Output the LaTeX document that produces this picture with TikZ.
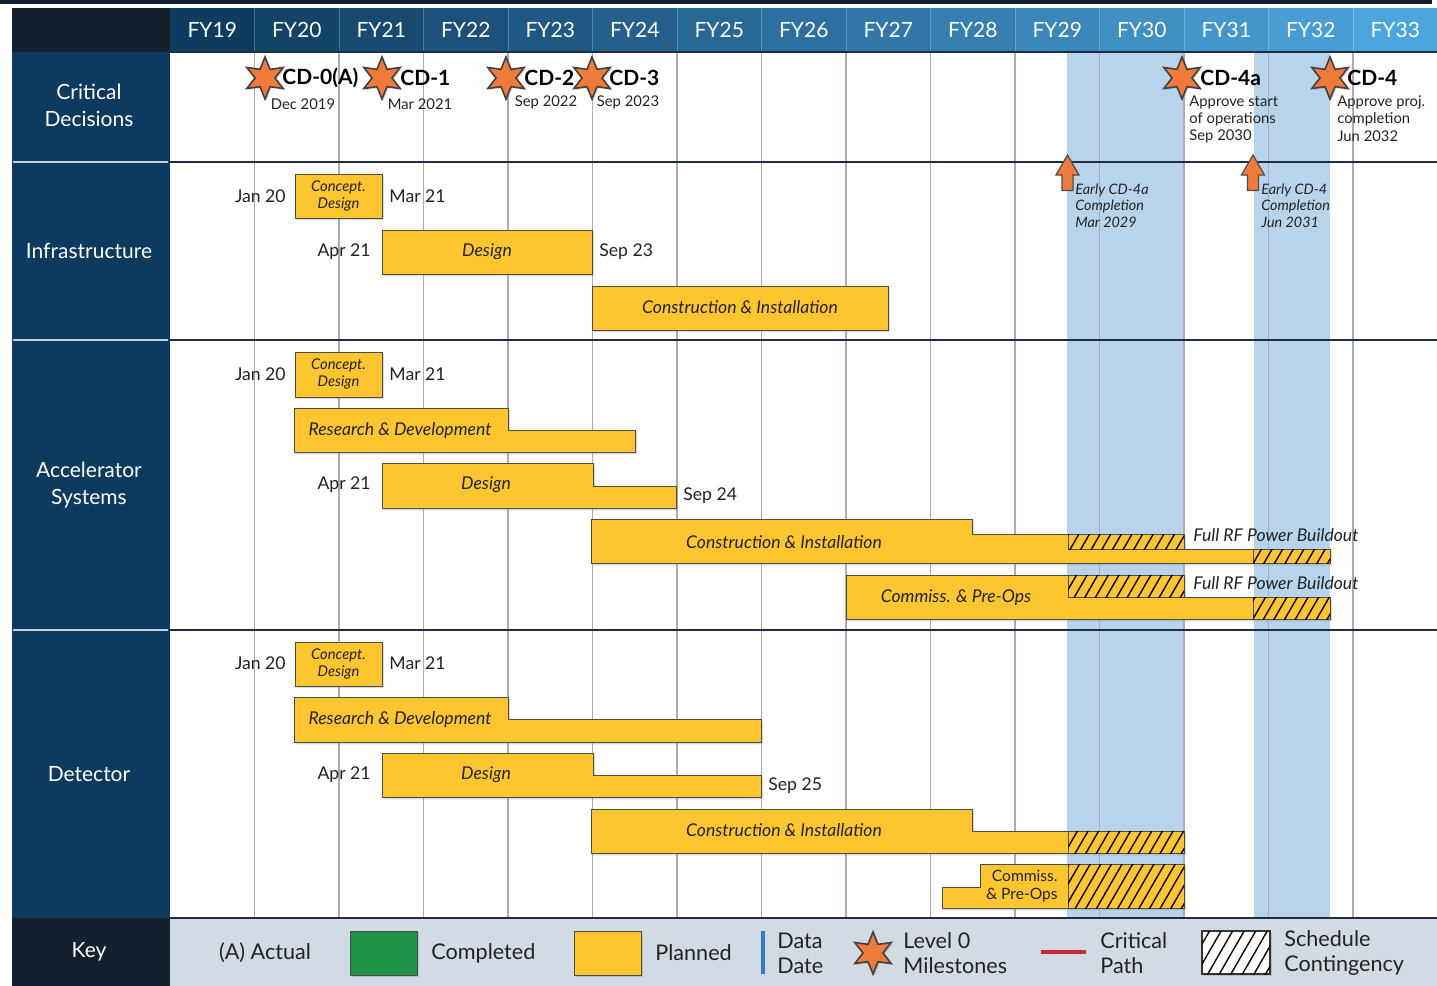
\documentclass[tikz,border=0pt]{standalone}
\usepackage{fontspec}
\setmainfont{Lato}
\usepackage{tikz}
\usetikzlibrary{patterns.meta}
\usetikzlibrary{shapes.geometric}
\usetikzlibrary{shadows}
\usepackage{xcolor}

\definecolor{navy}{RGB}{13,58,94}
\definecolor{corner}{RGB}{20,32,46}
\definecolor{hdrL}{RGB}{14,59,95}
\definecolor{hdrR}{RGB}{76,166,222}
\definecolor{barY}{RGB}{253,198,46}
\definecolor{band}{RGB}{184,212,237}
\definecolor{gridc}{RGB}{168,174,184}
\definecolor{rowc}{RGB}{30,46,66}
\definecolor{keybg}{RGB}{210,219,227}
\definecolor{starO}{RGB}{240,122,58}
\definecolor{doneG}{RGB}{30,148,72}
\definecolor{dateB}{RGB}{42,127,196}
\definecolor{critR}{RGB}{208,40,58}
\definecolor{ink}{RGB}{34,34,34}

\begin{document}
\begin{tikzpicture}[x=0.5pt,y=-0.5pt,
  bar/.style={fill=barY,draw=black!70,line width=0.5pt,drop shadow={shadow xshift=1pt,shadow yshift=-1.2pt,opacity=0.3}},
  hatch/.style={fill=barY,draw=black!70,line width=0.5pt,postaction={pattern={Lines[angle=60,distance=4.6pt,line width=0.7pt]},pattern color=black}},
  mstar/.style={star,star points=6,star point ratio=2.1,fill=starO,draw=black!75,line width=0.8pt,minimum size=21pt,inner sep=0pt,drop shadow={shadow xshift=0.8pt,shadow yshift=-0.8pt,opacity=0.3}},
  hdr/.style={text=white,font=\fontsize{10.5}{12}\selectfont},
  side/.style={text=white,align=center,font=\fontsize{10.5}{13.5}\selectfont},
  cdlab/.style={anchor=west,inner sep=0pt,text=black,font=\bfseries\fontsize{10.5}{12}\selectfont},
  cdsub/.style={inner sep=0pt,text=ink,align=left,font=\fontsize{7.4}{8.7}\selectfont},
  datel/.style={inner sep=0pt,text=ink,font=\fontsize{8.8}{10}\selectfont},
  bartxt/.style={inner sep=0pt,text=ink,font=\itshape\fontsize{8.8}{9.5}\selectfont},
  smalltxt/.style={inner sep=0pt,text=ink,align=center,font=\itshape\fontsize{7.4}{8.6}\selectfont},
  early/.style={inner sep=0pt,text=ink,align=left,anchor=north west,font=\itshape\fontsize{7.2}{8.3}\selectfont},
  keytxt/.style={inner sep=0pt,text=ink,align=left,anchor=west,font=\fontsize{10.8}{12.5}\selectfont}]
  \useasboundingbox (0,0) rectangle (1437,986);
  \fill[corner] (0,0) rectangle (1432,4);

  \fill[band] (1067,52) rectangle (1184,918);
  \fill[band] (1254,52) rectangle (1330,918);
  \foreach \k in {1,...,14}
    \draw[gridc,line width=0.7pt] (170+84.5*\k,52) -- (170+84.5*\k,918);

  \fill[corner] (12,8) rectangle (170,52);
  \foreach \yr [count=\i from 0] in {19,...,33} {
    \pgfmathtruncatemacro{\p}{100*\i/14}
    \fill[hdrR!\p!hdrL] (170+84.5*\i,8) rectangle (254.5+84.5*\i,52);
    \node[hdr] (fy\yr) at (212.25+84.5*\i,30) {FY\yr};
  }
  \foreach \k in {1,...,14}
    \draw[white,opacity=0.25,line width=0.5pt] (170+84.5*\k,8) -- (170+84.5*\k,52);

  \fill[navy] (12,52) rectangle (170,918);
  \fill[corner] (12,918) rectangle (170,986);
  \fill[keybg] (170,918) rectangle (1437,986);
  \foreach \ry in {162,340,630} {
    \draw[gray!40,line width=1pt] (13,\ry) -- (168,\ry);
    \draw[rowc,line width=1pt] (170,\ry) -- (1437,\ry);
  }
  \draw[rowc,line width=0.8pt] (170,52) -- (1437,52);
  \draw[rowc,line width=1pt] (170,918) -- (1437,918);

  \node[side] (crit) at (89,105) {Critical\\Decisions};
  \node[side] (infra) at (89,251) {Infrastructure};
  \node[side] (accel) at (89,485) {Accelerator\\Systems};
  \node[side] (detec) at (89,774) {Detector};
  \node[side] (keyh) at (89,952) {Key};

  \node[mstar] (s0) at (265,78) {};
  \node[cdlab] (cd0) at (282,78) {CD-0(A)};
  \node[cdsub] (cd0d) at (303,104) {Dec 2019};
  \node[mstar] (s1) at (382,78) {};
  \node[cdlab] (cd1) at (400,78) {CD-1};
  \node[cdsub] (cd1d) at (420,104) {Mar 2021};
  \node[mstar] (s2) at (506,78) {};
  \node[cdlab] (cd2) at (524,78) {CD-2};
  \node[cdsub] (cd2d) at (546,102) {Sep 2022};
  \node[mstar] (s3) at (592,78) {};
  \node[cdlab] (cd3) at (609,78) {CD-3};
  \node[cdsub] (cd3d) at (628,102) {Sep 2023};
  \node[mstar] (s4a) at (1182,78) {};
  \node[cdlab] (cd4a) at (1200,78) {CD-4a};
  \node[cdsub,anchor=north west] (cd4ad) at (1189,95) {Approve start\\of operations\\Sep 2030};
  \node[mstar] (s4) at (1330,78) {};
  \node[cdlab] (cd4) at (1347,78) {CD-4};
  \node[cdsub,anchor=north west] (cd4d) at (1337,95) {Approve proj.\\completion\\Jun 2032};

  \foreach \ax in {1067.5,1253}
    \filldraw[fill=starO,draw=black!70,line width=0.6pt] (\ax,155) -- (\ax+11.5,175) -- (\ax+5.5,175) -- (\ax+5.5,190.5) -- (\ax-5.5,190.5) -- (\ax-5.5,175) -- (\ax-11.5,175) -- cycle;
  \node[early] (e4a) at (1075,183) {Early CD-4a\\Completion\\Mar 2029};
  \node[early] (e4) at (1261,183) {Early CD-4\\Completion\\Jun 2031};

  \filldraw[bar] (295,174) rectangle (382,218);
  \node[smalltxt] (icd) at (338.5,196) {Concept.\\Design};
  \node[datel,anchor=east] (ij) at (286,196) {Jan 20};
  \node[datel,anchor=west] (im) at (389,196) {Mar 21};
  \filldraw[bar] (382,230) rectangle (592,274);
  \node[bartxt] (ides) at (487,252) {Design};
  \node[datel,anchor=east] (ia) at (371,252) {Apr 21};
  \node[datel,anchor=west] (is) at (599,252) {Sep 23};
  \filldraw[bar] (592,286) rectangle (888,330);
  \node[bartxt] (ici) at (740,307) {Construction \& Installation};

  \filldraw[bar] (295,352) rectangle (382,397);
  \node[smalltxt] (acd) at (338.5,374) {Concept.\\Design};
  \node[datel,anchor=east] (aj) at (286,374) {Jan 20};
  \node[datel,anchor=west] (am) at (389,374) {Mar 21};
  \filldraw[bar] (294,408) -- (508,408) -- (508,430) -- (635,430) -- (635,452) -- (294,452) -- cycle;
  \node[bartxt] (ard) at (400,431) {Research \& Development};
  \filldraw[bar] (382,463) -- (593,463) -- (593,486) -- (676,486) -- (676,508) -- (382,508) -- cycle;
  \node[bartxt] (ades) at (486,485) {Design};
  \node[datel,anchor=east] (aa) at (371,485) {Apr 21};
  \node[datel,anchor=west] (as) at (683,496) {Sep 24};
  \filldraw[bar] (591,519) -- (972,519) -- (972,534) -- (1184,534) -- (1184,549) -- (1330,549) -- (1330,563) -- (591,563) -- cycle;
  \filldraw[hatch] (1068,534) rectangle (1184,549);
  \filldraw[hatch] (1253,549) rectangle (1330,563);
  \node[bartxt] (aci) at (784,542) {Construction \& Installation};
  \node[bartxt,anchor=west] (arf1) at (1193,535) {Full RF Power Buildout};
  \filldraw[bar] (846,575) -- (1184,575) -- (1184,597) -- (1330,597) -- (1330,619) -- (846,619) -- cycle;
  \filldraw[hatch] (1068,575) rectangle (1184,597);
  \filldraw[hatch] (1253,597) rectangle (1330,619);
  \node[bartxt] (acp) at (956,598) {Commiss. \& Pre-Ops};
  \node[bartxt,anchor=west] (arf2) at (1193,583) {Full RF Power Buildout};

  \filldraw[bar] (295,642) rectangle (382,686);
  \node[smalltxt] (dcd) at (338.5,664) {Concept.\\Design};
  \node[datel,anchor=east] (dj) at (286,663) {Jan 20};
  \node[datel,anchor=west] (dm) at (389,663) {Mar 21};
  \filldraw[bar] (294,697) -- (508,697) -- (508,719) -- (761,719) -- (761,742) -- (294,742) -- cycle;
  \node[bartxt] (drd) at (400,720) {Research \& Development};
  \filldraw[bar] (382,753) -- (593,753) -- (593,775) -- (761,775) -- (761,797) -- (382,797) -- cycle;
  \node[bartxt] (ddes) at (486,775) {Design};
  \node[datel,anchor=east] (da) at (371,775) {Apr 21};
  \node[datel,anchor=west] (ds) at (768,786) {Sep 25};
  \filldraw[bar] (591,809) -- (972,809) -- (972,831) -- (1184,831) -- (1184,853) -- (591,853) -- cycle;
  \filldraw[hatch] (1068,831) rectangle (1184,853);
  \node[bartxt] (dci) at (784,830) {Construction \& Installation};
  \filldraw[bar] (980,864) -- (1184,864) -- (1184,908) -- (942,908) -- (942,887) -- (980,887) -- cycle;
  \filldraw[hatch] (1068,864) rectangle (1184,908);
  \node[bartxt,align=right,anchor=east,font=\fontsize{7.8}{8.8}\selectfont] (dcp) at (1058,886) {Commiss.\\\& Pre-Ops};

  \node[keytxt,anchor=center] (kact) at (265,953) {(A) Actual};
  \filldraw[fill=doneG,draw=black!70,line width=0.5pt,drop shadow={shadow xshift=1pt,shadow yshift=-1pt,opacity=0.3}] (350,931) rectangle (417,975);
  \node[keytxt] (kcomp) at (431,953) {Completed};
  \filldraw[bar] (574,931) rectangle (641,975);
  \node[keytxt] (kplan) at (655,953) {Planned};
  \draw[dateB,line width=2pt] (762.5,931) -- (762.5,974);
  \node[keytxt] (kdata) at (777,953) {Data\\Date};
  \node[mstar] (kstar) at (873,953) {};
  \node[keytxt] (klev) at (903,953) {Level 0\\Milestones};
  \draw[critR,line width=2pt] (1041,952) -- (1086,952);
  \node[keytxt] (kcrit) at (1100,953) {Critical\\Path};
  \filldraw[fill=white,draw=black!80,line width=0.6pt,postaction={pattern={Lines[angle=60,distance=5pt,line width=0.7pt]},pattern color=black},drop shadow={shadow xshift=1pt,shadow yshift=-1pt,opacity=0.3}] (1202,931) rectangle (1270,974);
  \node[keytxt] (ksch) at (1284,953) {Schedule\\Contingency};
\end{tikzpicture}
\end{document}
